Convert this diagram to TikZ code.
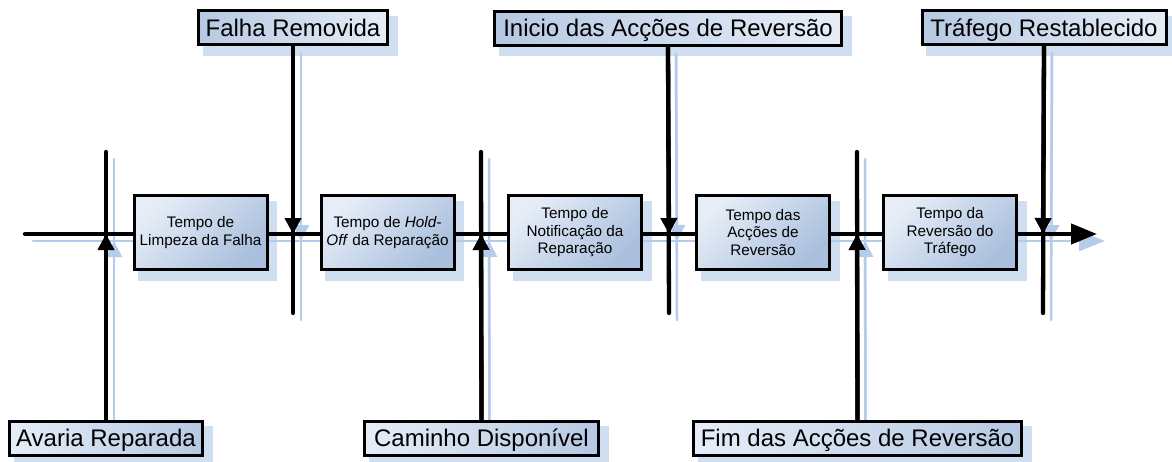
\documentclass[tikz,border=0pt]{standalone}
\usepackage{fontspec}
\setmainfont{Liberation Sans}
\usetikzlibrary{arrows.meta}
\pgfdeclarelayer{shadowlayer}
\pgfdeclarelayer{wirelayer}
\pgfsetlayers{shadowlayer,wirelayer,main}
\definecolor{lightb}{HTML}{E6EDF7}
\definecolor{darkb}{HTML}{A9BFDD}
\definecolor{shadowb}{HTML}{D0DEF1}
\definecolor{shadowl}{HTML}{B4CCEA}
\newcommand\mywires[4]{%
  \draw[#2,#4] ([shift={#1}]s) -- ([shift={#1}]e);
  \draw[#2] ([shift={#1}]t1) -- ([shift={#1}]la.north);
  \draw[#3] ([shift={#1}]la.north) -- ([shift={#1}]m1);
  \draw[#2] ([shift={#1}]lf.south) -- ([shift={#1}]b2);
  \draw[#3] ([shift={#1}]lf.south) -- ([shift={#1}]m2);
  \draw[#2] ([shift={#1}]t3) -- ([shift={#1}]lc.north);
  \draw[#3] ([shift={#1}]lc.north) -- ([shift={#1}]m3);
  \draw[#2] ([shift={#1}]li.south) -- ([shift={#1}]b4);
  \draw[#3] ([shift={#1}]li.south) -- ([shift={#1}]m4);
  \draw[#2] ([shift={#1}]t5) -- ([shift={#1}]lm.north);
  \draw[#3] ([shift={#1}]lm.north) -- ([shift={#1}]m5);
  \draw[#2] ([shift={#1}]lt.south) -- ([shift={#1}]b6);
  \draw[#3] ([shift={#1}]lt.south) -- ([shift={#1}]m6);
}
\begin{document}
\begin{tikzpicture}[x=1pt,y=-1pt,
  procbox/.style={draw=black, line width=3pt, minimum width=133pt, minimum height=74pt,
    inner sep=0pt, align=center, font=\fontsize{15.3}{17.5}\selectfont,
    shading=axis, top color=lightb, bottom color=darkb, shading angle=45},
  lbl/.style={draw=black, line width=3pt, minimum height=34pt, inner sep=0pt,
    text height=17pt, text depth=0pt, font=\fontsize{24}{28}\selectfont},
  toplbl/.style={lbl, left color=darkb!85!white, right color=lightb},
  botlbl/.style={lbl, left color=lightb, right color=darkb!85!white},
  wireln/.style={line width=4.3pt, line cap=round},
  tipln/.style={line width=4.3pt, -{Triangle[length=16pt,width=16pt]}},
  mainarrow/.style={-{Triangle[length=26pt,width=20pt]}},
  shln/.style={line width=2.5pt, draw=shadowl, line cap=round},
  shtip/.style={line width=2.5pt, draw=shadowl, fill=shadowl, -{Triangle[length=16pt,width=16pt]}},
  shmain/.style={-{Triangle[length=26pt,width=20pt]}, fill=shadowl}
]
\useasboundingbox (0,0) rectangle (1172,461);
% process boxes
\node[procbox] (p1) at (200.5,232.5) {Tempo de\\Limpeza da Falha};
\node[procbox] (p2) at (387.5,232.5) {Tempo de \textit{Hold-}\\\textit{Off} da Reparação};
\node[procbox] (p3) at (575,232.5) {Tempo de\\Notificação da\\Reparação};
\node[procbox] (p4) at (763,232.5) {Tempo das\\Acções de\\Reversão};
\node[procbox] (p5) at (950,232.5) {Tempo da\\Reversão do\\Tráfego};
% event labels
\node[toplbl, minimum width=189pt] (lf) at (293,27.5) {Falha Removida};
\node[toplbl, minimum width=347pt] (li) at (668,28) {Inicio das Acções de Reversão};
\node[toplbl, minimum width=244pt] (lt) at (1044,27.5) {Tráfego Restablecido};
\node[botlbl, minimum width=193pt] (la) at (106,438) {Avaria Reparada};
\node[botlbl, minimum width=234pt] (lc) at (481.5,438) {Caminho Disponível};
\node[botlbl, minimum width=328pt] (lm) at (857.5,438) {Fim das Acções de Reversão};
% coordinates
\coordinate (s) at (25,234);
\coordinate (e) at (1097,234);
\coordinate (m1) at (106,234); \coordinate (t1) at (106,152);
\coordinate (m2) at (293,234); \coordinate (b2) at (293,313);
\coordinate (m3) at (481,234); \coordinate (t3) at (481,152);
\coordinate (m4) at (669,234); \coordinate (b4) at (669,313);
\coordinate (m5) at (857,234); \coordinate (t5) at (857,152);
\coordinate (m6) at (1043,234); \coordinate (b6) at (1043,313);
% wires
\begin{pgfonlayer}{wirelayer}
  \mywires{(0,0)}{wireln}{tipln}{mainarrow}
\end{pgfonlayer}
% shadows
\begin{pgfonlayer}{shadowlayer}
  \foreach \n in {p1,p2,p3,p4,p5,lf,li,lt,la,lc,lm}
    \fill[shadowb] ([shift={(5.5,6.5)}]\n.north west) rectangle ([shift={(8.5,9.5)}]\n.south east);
  \mywires{(8,7)}{shln}{shtip}{shmain}
\end{pgfonlayer}
\end{tikzpicture}
\end{document}
